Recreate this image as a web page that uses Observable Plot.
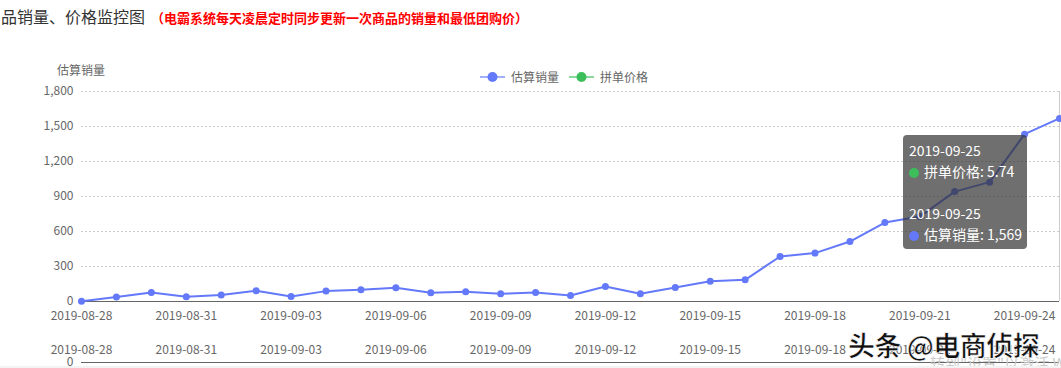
<!DOCTYPE html>
<html><head><meta charset="utf-8">
<script src="https://cdn.jsdelivr.net/npm/d3@7"></script>
<script src="https://cdn.jsdelivr.net/npm/@observablehq/plot@0.6"></script>
<style>
body{margin:0;background:#f3f3f3;font-family:"Noto Sans CJK SC","Noto Sans",sans-serif;}
#wrap{position:relative;width:1061px;height:366px;background:#fff;overflow:hidden}
#title{position:absolute;left:1px;top:5px;font-size:16px;color:#333;white-space:nowrap;line-height:22px}
#title span{color:#f00;font-size:13px;font-weight:bold;margin-left:6px}
#ylab{position:absolute;left:57px;top:61px;font-size:12px;color:#666}
#legend{position:absolute;left:480px;top:68px;font-size:12px;color:#666;display:flex;align-items:center;gap:10px}
#legend .it{display:flex;align-items:center;gap:6px}
#main{position:absolute;left:0;top:30px}
#sub{position:absolute;left:0;top:330px}
#tip{position:absolute;left:903px;top:135px;width:124px;height:114px;background:rgba(50,50,50,0.7);border-radius:4px;color:#fff;font-size:14px;line-height:21px;box-sizing:border-box;padding:5px 0 0 6px}
#tip .dot{display:inline-block;width:10px;height:10px;border-radius:5px;margin-right:5px;vertical-align:-1px}
#wm{position:absolute;left:848px;top:325px;font-size:27px;font-weight:bold;color:#111;-webkit-text-stroke:0.7px #fff;white-space:nowrap;letter-spacing:-0.5px}
#win{position:absolute;left:930px;top:352px;font-size:15px;color:#ccc;white-space:nowrap}
</style></head>
<body>
<div id="wrap">
  <div id="title">品销量、价格监控图<span>（电霸系统每天凌晨定时同步更新一次商品的销量和最低团购价）</span></div>
  <div id="ylab">估算销量</div>
  <div id="legend"></div>
  <div id="main"></div>
  <div id="sub"></div>
  <div id="win">转到"设置"以激活 Windows。</div>
  <div id="wm">头条 @电商侦探</div>
  <div id="tip"></div>
</div>
<script>
const dates = ["2019-08-28","2019-08-29","2019-08-30","2019-08-31","2019-09-01","2019-09-02","2019-09-03","2019-09-04","2019-09-05","2019-09-06","2019-09-07","2019-09-08","2019-09-09","2019-09-10","2019-09-11","2019-09-12","2019-09-13","2019-09-14","2019-09-15","2019-09-16","2019-09-17","2019-09-18","2019-09-19","2019-09-20","2019-09-21","2019-09-22","2019-09-23","2019-09-24","2019-09-25"];
const sales = [3,38,77,40,55,92,43,89,100,117,75,83,66,77,51,128,66,120,173,186,386,415,514,677,728,942,1023,1434,1569];
const priceLast = 5.74;
const yTicks = [0,300,600,900,1200,1500,1800];
const seriesNames = ["估算销量","拼单价格"];
const seriesColors = ["#6479f9","#3cbf5a"];

const data = dates.map((d,i)=>({date:d, sales:sales[i]}));
const xTicks = dates.filter((d,i)=>i%3===0);
const fmt = d3.format(",");

// legend
const lg = document.getElementById("legend");
seriesNames.forEach((n,i)=>{
  const it = document.createElement("div"); it.className="it";
  it.innerHTML = `<svg width="25" height="14"><line x1="0" x2="25" y1="7" y2="7" stroke="${seriesColors[i]}" stroke-opacity="0.6" stroke-width="2"/><circle cx="12.5" cy="7" r="5" fill="${seriesColors[i]}"/></svg><span>${n}</span>`;
  lg.appendChild(it);
});

const main = Plot.plot({
  width: 1061, height: 300,
  marginTop: 61, marginBottom: 29, marginLeft: 81, marginRight: 2,
  style: {fontSize: "12px", fontFamily: '"Noto Sans CJK SC",sans-serif', color: "#666", background: "transparent", overflow: "visible"},
  x: {type: "point", domain: dates, padding: 0, round: false},
  y: {domain: [0,1800]},
  marks: [
    Plot.gridY(yTicks.slice(1), {stroke: "#ccc", strokeOpacity: 1, strokeDasharray: "2,2"}),
    Plot.ruleX([dates[dates.length-1]], {stroke: "#ccc"}),
    Plot.axisY({ticks: yTicks, tickFormat: fmt, tickSize: 0, tickPadding: 8, label: null, fill: "#666"}),
    Plot.axisX({ticks: xTicks, tickSize: 0, tickPadding: 10, label: null, fill: "#666"}),
    Plot.ruleY([0], {stroke: "#666"}),
    Plot.line(data, {x: "date", y: "sales", stroke: seriesColors[0], strokeWidth: 2}),
    Plot.dot(data, {x: "date", y: "sales", fill: seriesColors[0], r: 3.5})
  ]
});
document.getElementById("main").appendChild(main);

const sub = Plot.plot({
  width: 1061, height: 36,
  marginTop: 31, marginBottom: 4, marginLeft: 81, marginRight: 2,
  style: {fontSize: "12px", fontFamily: '"Noto Sans CJK SC",sans-serif', color: "#666", background: "transparent", overflow: "visible"},
  x: {type: "point", domain: dates, padding: 0, round: false},
  y: {domain: [0,1]},
  marks: [
    Plot.axisX({anchor: "top", ticks: xTicks, tickSize: 0, tickPadding: 8, label: null, fill: "#666"}),
    Plot.axisY({ticks: [0], tickFormat: fmt, tickSize: 0, tickPadding: 8, label: null, fill: "#666"}),
    Plot.ruleY([0], {stroke: "#666"})
  ]
});
document.getElementById("sub").appendChild(sub);

// tooltip
const last = data[data.length-1];
document.getElementById("tip").innerHTML =
  `<div>${last.date}</div><div><span class="dot" style="background:${seriesColors[1]}"></span>${seriesNames[1]}: ${priceLast}</div>` +
  `<div style="margin-top:21px">${last.date}</div><div><span class="dot" style="background:${seriesColors[0]}"></span>${seriesNames[0]}: ${fmt(last.sales)}</div>`;
</script>
</body></html>
